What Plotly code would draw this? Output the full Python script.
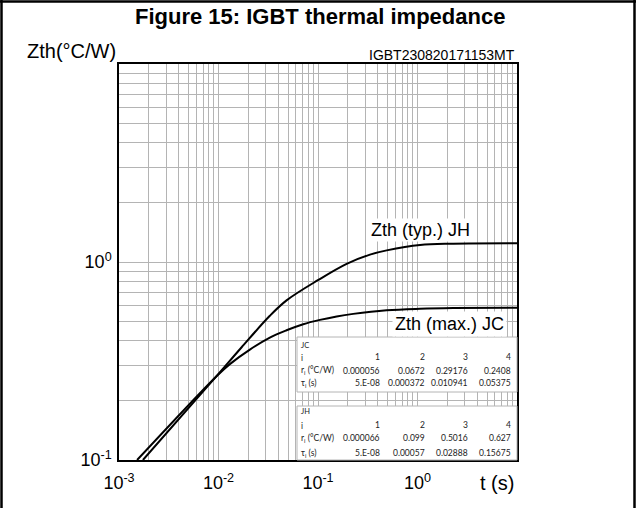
import plotly.graph_objects as go

# ---- data ----
t_jh = [1.74e-3, 9.55e-3, 0.0170, 0.0328, 0.0483, 0.0997, 0.194, 0.333, 0.49, 1.06, 2.29, 10.0]
z_jh = [0.100, 0.265, 0.370, 0.535, 0.640, 0.809, 0.979, 1.09, 1.145, 1.22, 1.238, 1.243]

t_jc = [1.52e-3, 9.55e-3, 0.0130, 0.0205, 0.0328, 0.0483, 0.071, 0.1045, 0.154, 0.226, 0.49, 1.06, 2.29, 10.0]
z_jc = [0.100, 0.265, 0.305, 0.360, 0.415, 0.452, 0.485, 0.510, 0.531, 0.547, 0.570, 0.580, 0.585, 0.588]

x_decades = [-3, -2, -1, 0, 1]
y_decades = [-1, 0, 1]

table_cols = ["1", "2", "3", "4"]
jc_r = ["0.000056", "0.0672", "0.29176", "0.2408"]
jc_tau = ["5.E-08", "0.000372", "0.010941", "0.05375"]
jh_r = ["0.000066", "0.099", "0.5016", "0.627"]
jh_tau = ["5.E-08", "0.00057", "0.02888", "0.15675"]

# ---- figure ----
W, H = 636, 508
L, R, T, B = 119, 119, 64, 48
pw, ph = W - L - R, H - T - B


def px(x):
    return (x - L) / pw


def py(y):
    return (H - B - y) / ph


def sup(e):
    return "10<sup>%d</sup>" % e


def grid_vals(decades):
    vals, txt = [], []
    for d in decades:
        for m in range(1, 10):
            if d == decades[-1] and m > 1:
                break
            vals.append(m * 10 ** d)
            txt.append(sup(d) if (m == 1 and d != decades[-1]) else "")
    return vals, txt


xv, xt = grid_vals(x_decades)
yv, yt = grid_vals(y_decades)

fig = go.Figure()
fig.add_trace(go.Scatter(x=t_jh, y=z_jh, mode="lines", line=dict(color="black", width=2, shape="spline", smoothing=1.0),
                         showlegend=False, hoverinfo="skip"))
fig.add_trace(go.Scatter(x=t_jc, y=z_jc, mode="lines", line=dict(color="black", width=2, shape="spline", smoothing=1.0),
                         showlegend=False, hoverinfo="skip"))

font_main = "Liberation Sans, Arial, sans-serif"
font_tab = "Lato, sans-serif"

fig.update_xaxes(type="log", range=[-3, 1], tickvals=xv, ticktext=xt, showgrid=True, gridcolor="#b4b4b4", gridwidth=1,
                 ticks="", showline=True, linecolor="black", linewidth=1.5, mirror=True, zeroline=False,
                 tickfont=dict(family=font_main, size=18, color="black"), ticklabelstandoff=6)
fig.update_yaxes(type="log", range=[-1, 1], tickvals=yv, ticktext=yt, showgrid=True, gridcolor="#b4b4b4", gridwidth=1,
                 ticks="", showline=True, linecolor="black", linewidth=1.5, mirror=True, zeroline=False,
                 tickfont=dict(family=font_main, size=18, color="black"), ticklabelstandoff=2)

shapes = []
# outer frame (left, right, top)
shapes.append(dict(type="line", xref="paper", yref="paper", x0=px(1.5), x1=px(1.5), y0=py(0), y1=py(H), line=dict(color="black", width=2.5)))
shapes.append(dict(type="line", xref="paper", yref="paper", x0=px(W - 1.5), x1=px(W - 1.5), y0=py(0), y1=py(H), line=dict(color="black", width=2.5)))
shapes.append(dict(type="line", xref="paper", yref="paper", x0=px(0), x1=px(W), y0=py(1.5), y1=py(1.5), line=dict(color="black", width=2.5)))
# table boxes
shapes.append(dict(type="rect", xref="paper", yref="paper", x0=px(297), x1=1, y0=py(392), y1=py(337),
                   fillcolor="white", line=dict(color="#b4b4b4", width=1), layer="above"))
shapes.append(dict(type="rect", xref="paper", yref="paper", x0=px(297), x1=1, y0=0, y1=py(406),
                   fillcolor="white", line=dict(color="#b4b4b4", width=1), layer="above"))
fig.update_layout(shapes=shapes)

ann = []
ann.append(dict(text="<b>Figure 15: IGBT thermal impedance</b>", xref="paper", yref="paper", x=px(320), y=py(17),
                xanchor="center", yanchor="middle", showarrow=False, font=dict(family=font_main, size=22, color="black")))
ann.append(dict(text="Zth(°C/W)", xref="paper", yref="paper", x=px(118), y=py(51), xanchor="right", yanchor="middle",
                showarrow=False, font=dict(family=font_main, size=20, color="black")))
ann.append(dict(text="IGBT230820171153MT", xref="paper", yref="paper", x=1, y=py(55), xanchor="right", yanchor="middle",
                showarrow=False, font=dict(family=font_main, size=14, color="black")))
ann.append(dict(text="t (s)", xref="paper", yref="paper", x=px(497), y=py(483), xanchor="center", yanchor="middle",
                showarrow=False, font=dict(family=font_main, size=20, color="black")))
ann.append(dict(text="Zth (typ.) JH", xref="paper", yref="paper", x=px(420), y=py(230), xanchor="center", yanchor="middle",
                showarrow=False, bgcolor="white", borderpad=1, font=dict(family=font_main, size=18, color="black")))
ann.append(dict(text="Zth (max.) JC", xref="paper", yref="paper", x=px(449), y=py(324), xanchor="center", yanchor="middle",
                showarrow=False, bgcolor="white", borderpad=2, font=dict(family=font_main, size=18, color="black")))

col_x = [381.7, 426.7, 470, 513.3]


def table(name, r, tau, y_name, y_num, y_r, y_tau):
    f = dict(family=font_tab, size=8.5, color="#222222")
    ann.append(dict(text=name, xref="paper", yref="paper", x=px(299), y=py(y_name), xanchor="left", yanchor="middle", showarrow=False, font=dict(family=font_tab, size=7.5, color="#222222")))
    ann.append(dict(text="i", xref="paper", yref="paper", x=px(299), y=py(y_num + 1), xanchor="left", yanchor="middle", showarrow=False, font=f))
    ann.append(dict(text="r<sub>i</sub> (°C/W)", xref="paper", yref="paper", x=px(299), y=py(y_r), xanchor="left", yanchor="middle", showarrow=False, font=f))
    ann.append(dict(text="τ<sub>i</sub> (s)", xref="paper", yref="paper", x=px(299), y=py(y_tau), xanchor="left", yanchor="middle", showarrow=False, font=f))
    for k in range(4):
        ann.append(dict(text=table_cols[k], xref="paper", yref="paper", x=px(col_x[k]), y=py(y_num), xanchor="right", yanchor="middle", showarrow=False, font=f))
        ann.append(dict(text=r[k], xref="paper", yref="paper", x=px(col_x[k]), y=py(y_r), xanchor="right", yanchor="middle", showarrow=False, font=f))
        ann.append(dict(text=tau[k], xref="paper", yref="paper", x=px(col_x[k]), y=py(y_tau), xanchor="right", yanchor="middle", showarrow=False, font=f))


table("JC", jc_r, jc_tau, 345, 357, 370.7, 383.3)
table("JH", jh_r, jh_tau, 411, 425, 438.3, 453)

fig.update_layout(annotations=ann, width=W, height=H, margin=dict(l=L, r=R, t=T, b=B, pad=0),
                  paper_bgcolor="white", plot_bgcolor="white", showlegend=False)

fig.write_html("out.html")
